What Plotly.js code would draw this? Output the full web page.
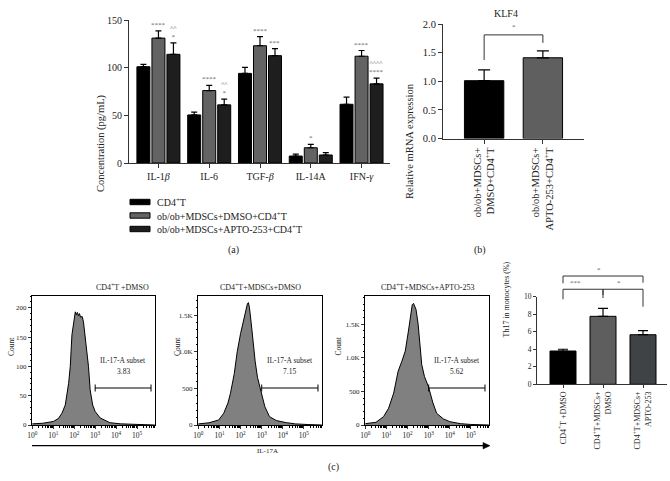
<!DOCTYPE html>
<html><head><meta charset="utf-8">
<script src="https://cdn.plot.ly/plotly-3.0.1.min.js"></script>
<style>html,body{margin:0;padding:0;background:#fff}</style>
</head><body><div id="chart" style="width:670px;height:481px"></div>
<script>
// ---------- Panel (a) data ----------
const cytokines = ['IL-1<i>β</i>','IL-6','TGF-<i>β</i>','IL-14A','IFN-<i>γ</i>'];
const groupNames = ['CD4<sup>+</sup>T','ob/ob+MDSCs+DMSO+CD4<sup>+</sup>T','ob/ob+MDSCs+APTO-253+CD4<sup>+</sup>T'];
const cd4T    = [101, 50.4, 94, 7.3, 61.6];
const cd4TErr = [2.5, 3, 6.4, 2.1, 7.4];
const dmso    = [131, 76, 123, 16, 112];
const dmsoErr = [7.5, 5.5, 9.5, 3.6, 6];
const apto    = [114, 61, 112.6, 8.4, 83];
const aptoErr = [12, 6, 7.4, 2.4, 6];
const dmsoSig = ['****','****','****','*','****'];
const aptoSigLow = ['*','*','***','','****'];
const aptoSigHigh = ['^^','^^','','','^^^^'];

// ---------- Panel (b) data ----------
const klf4Groups = ['ob/ob+MDSCs+<br>DMSO+CD4<sup>+</sup>T','ob/ob+MDSCs+<br>APTO-253+CD4<sup>+</sup>T'];
const klf4 = [1.01, 1.41];
const klf4Err = [0.19, 0.12];

// ---------- Panel (c) histogram data (log10 of IL-17A, count) ----------
const histTitles = ['CD4<sup>+</sup>T +DMSO','CD4<sup>+</sup>T+MDSCs+DMSO','CD4<sup>+</sup>T+MDSCs+APTO-253'];
const gatePct = ['3.83','7.15','5.62'];
const h1Exp = [0,0.5,1.0,1.24,1.41,1.57,1.73,1.81,1.89,2.0,2.05,2.1,2.15,2.2,2.25,2.3,2.38,2.44,2.56,2.68,2.76,2.88,3.0,3.24,3.7,4.2,5.0,5.85];
const h1Cnt = [2,3,6,11,20,34,71,100,154,178,193,188,192,186,190,184,185,176,137,100,60,34,23,12,4,2,1,0];
const h2Exp = [0,0.5,0.96,1.2,1.4,1.52,1.7,1.84,2.0,2.16,2.25,2.32,2.37,2.42,2.5,2.56,2.69,2.8,2.97,3.15,3.37,3.7,4.17,4.6,5.2,5.85];
const h2Cnt = [15,30,68,160,300,434,700,1000,1250,1450,1600,1650,1670,1600,1400,1200,870,650,434,250,114,60,32,15,6,0];
const h3Exp = [0,0.5,0.86,1.1,1.34,1.55,1.73,1.89,2.04,2.15,2.22,2.28,2.33,2.4,2.5,2.6,2.67,2.8,2.99,3.2,3.38,3.7,4.0,4.5,5.0,5.85];
const h3Cnt = [20,40,124,250,475,800,950,1100,1400,1650,1790,1810,1780,1720,1500,1150,900,720,570,330,173,90,50,20,8,0];

// ---------- Panel (c) bar data ----------
const th17Groups = ['CD4<sup>+</sup>T +DMSO','CD4<sup>+</sup>T+MDSCs+<br>DMSO','CD4<sup>+</sup>T+MDSCs+<br>APTO-253'];
const th17 = [3.8, 7.76, 5.66];
const th17Err = [0.2, 0.91, 0.46];

// ---------- layout helpers ----------
const W = 670, H = 481;
const FX = p => p / W, FY = p => 1 - p / H;
const FONT = 'Liberation Serif, Times New Roman, serif';
const INK = '#222';

const traces = [];
const annotations = [];
const shapes = [];

// Panel (a) bars
const aColors = ['#000000','#636363','#1e1e1e'];
const aData = [cd4T, dmso, apto];
const aErr = [cd4TErr, dmsoErr, aptoErr];
const aOffsets = [-0.424, -0.128, 0.167];
const aWidth = 0.256;
const idx = cytokines.map((_, i) => i);
for (let k = 0; k < 3; k++) {
  traces.push({
    type: 'bar', x: idx, y: aData[k], name: groupNames[k], xaxis: 'x', yaxis: 'y',
    width: aWidth, offset: aOffsets[k],
    marker: {color: aColors[k], line: {color: '#000', width: 1}},
    error_y: {type: 'data', symmetric: false, array: aErr[k], arrayminus: aErr[k].map(() => 0),
              color: '#000', thickness: 1.2, width: 3},
    showlegend: false
  });
}
const sigFont = {family: FONT, size: 7, color: '#666'};
idx.forEach(i => {
  const xc2 = i + aOffsets[1] + aWidth / 2, xc3 = i + aOffsets[2] + aWidth / 2;
  if (dmsoSig[i]) annotations.push({xref: 'x', yref: 'y', x: xc2, y: dmso[i] + dmsoErr[i], yanchor: 'bottom',
    text: dmsoSig[i], showarrow: false, font: sigFont});
  const parts = [aptoSigHigh[i], aptoSigLow[i]].filter(s => s);
  if (parts.length) annotations.push({xref: 'x', yref: 'y', x: xc3, y: apto[i] + aptoErr[i], yanchor: 'bottom',
    text: parts.join('<br>'), showarrow: false, font: sigFont});
});
annotations.push({xref: 'paper', yref: 'paper', x: FX(93), y: FY(92), text: 'Concentration (pg/mL)', textangle: -90,
  showarrow: false, font: {family: FONT, size: 10.5, color: INK}});
// legend (a)
const legY = [202, 215.5, 229];
for (let k = 0; k < 3; k++) {
  shapes.push({type: 'rect', xref: 'paper', yref: 'paper', x0: FX(130), x1: FX(150), y0: FY(legY[k] + 2.7), y1: FY(legY[k] - 2.7),
    fillcolor: aColors[k], line: {color: '#000', width: 1}});
  annotations.push({xref: 'paper', yref: 'paper', x: FX(155), y: FY(legY[k]), xanchor: 'left', yanchor: 'middle',
    text: groupNames[k], showarrow: false, font: {family: FONT, size: 10, color: INK}});
}
annotations.push({xref: 'paper', yref: 'paper', x: FX(233), y: FY(250), text: '(a)', showarrow: false,
  font: {family: FONT, size: 10, color: INK}});

// Panel (b)
traces.push({type: 'bar', x: [0, 1], y: klf4, xaxis: 'x2', yaxis: 'y2', width: 0.67,
  marker: {color: ['#000000', '#5f5f5f'], line: {color: '#000', width: 1}},
  error_y: {type: 'data', symmetric: false, array: klf4Err, arrayminus: [0, 0], color: '#000', thickness: 1.2, width: 6},
  showlegend: false});
shapes.push({type: 'path', xref: 'x2', yref: 'y2', path: 'M0,1.37 L0,1.81 L1,1.81 L1,1.67', line: {color: '#333', width: 1}});
annotations.push({xref: 'x2', yref: 'y2', x: 0.5, y: 1.84, yanchor: 'bottom', text: '*', showarrow: false, font: sigFont});
annotations.push({xref: 'paper', yref: 'paper', x: FX(520), y: FY(6), text: 'KLF4', showarrow: false,
  font: {family: FONT, size: 10, color: INK}});
annotations.push({xref: 'paper', yref: 'paper', x: FX(410), y: FY(81), text: 'Relative mRNA expression', textangle: -90,
  showarrow: false, font: {family: FONT, size: 10.5, color: INK}});
annotations.push({xref: 'paper', yref: 'paper', x: FX(488), y: FY(250), text: '(b)', showarrow: false,
  font: {family: FONT, size: 10, color: INK}});

// Panel (c) histograms
const hExp = [h1Exp, h2Exp, h3Exp], hCnt = [h1Cnt, h2Cnt, h3Cnt];
const hFrames = [[32, 155], [198, 322], [365, 489]];
for (let k = 0; k < 3; k++) {
  const ax = k + 4;
  traces.push({type: 'scatter', mode: 'lines', x: hExp[k].map(e => Math.pow(10, e)), y: hCnt[k],
    xaxis: 'x' + ax, yaxis: 'y' + ax, fill: 'tozeroy', fillcolor: '#808080',
    line: {color: '#000', width: 1}, showlegend: false, hoverinfo: 'skip'});
  const [l, r] = hFrames[k];
  annotations.push({xref: 'paper', yref: 'paper', x: FX((l + r) / 2), y: FY(287), text: histTitles[k], showarrow: false,
    font: {family: FONT, size: 8, color: INK}});
  annotations.push({xref: 'paper', yref: 'paper', x: FX(l - 27), y: FY(358), text: 'Count', textangle: -90, showarrow: false,
    font: {family: FONT, size: 7.5, color: INK}});
  // gate
  const gx0 = 1000, gx1 = Math.pow(10, 5.67);
  shapes.push({type: 'line', xref: 'x' + ax, yref: 'paper', x0: gx0, x1: gx1, y0: FY(388), y1: FY(388), line: {color: '#000', width: 1}});
  shapes.push({type: 'line', xref: 'x' + ax, yref: 'paper', x0: gx0, x1: gx0, y0: FY(384.5), y1: FY(391.5), line: {color: '#000', width: 1}});
  shapes.push({type: 'line', xref: 'x' + ax, yref: 'paper', x0: gx1, x1: gx1, y0: FY(384.5), y1: FY(391.5), line: {color: '#000', width: 1}});
  annotations.push({xref: 'x' + ax, yref: 'paper', x: 3 + (5.67 - 3) / 2, y: FY(367), text: 'IL-17-A subset', showarrow: false,
    font: {family: FONT, size: 7.5, color: INK}});
  annotations.push({xref: 'x' + ax, yref: 'paper', x: 3 + (5.67 - 3) / 2, y: FY(378), text: gatePct[k], showarrow: false,
    font: {family: FONT, size: 7.5, color: INK}});
}
// IL-17A axis arrow
shapes.push({type: 'line', xref: 'paper', yref: 'paper', x0: FX(32), x1: FX(484), y0: FY(445.7), y1: FY(445.7), line: {color: '#000', width: 1.2}});
shapes.push({type: 'path', xref: 'paper', yref: 'paper',
  path: `M${FX(483)},${FY(442.5)} L${FX(490)},${FY(445.7)} L${FX(483)},${FY(448.9)} Z`, fillcolor: '#000', line: {color: '#000', width: 0.5}});
annotations.push({xref: 'paper', yref: 'paper', x: FX(267), y: FY(457), text: 'IL-17A', showarrow: false,
  font: {family: FONT, size: 7, color: INK}});
annotations.push({xref: 'paper', yref: 'paper', x: FX(333), y: FY(475), text: '(c)', showarrow: false,
  font: {family: FONT, size: 10, color: INK}});

// Panel (c) bars
traces.push({type: 'bar', x: [0, 1, 2], y: th17, xaxis: 'x3', yaxis: 'y3', width: 0.65,
  marker: {color: ['#000000', '#5e5e5e', '#404346'], line: {color: '#000', width: 1}},
  error_y: {type: 'data', symmetric: false, array: th17Err, arrayminus: [0, 0, 0], color: '#000', thickness: 1.2, width: 5},
  showlegend: false});
const c3dx = [FX(537), FX(667)], c3rx = [-0.65, 2.6];
const c3dy = [FY(384.3), FY(296.7)], c3ry = [0, 10];
const c3x = v => c3dx[0] + (v - c3rx[0]) / (c3rx[1] - c3rx[0]) * (c3dx[1] - c3dx[0]);
const c3y = v => c3dy[0] + (v - c3ry[0]) / (c3ry[1] - c3ry[0]) * (c3dy[1] - c3dy[0]);
const brackets = [
  {a: 0, b: 1, top: 10.85, ya: 9.7, yb: 9.85, label: '***'},
  {a: 1, b: 2, top: 10.85, ya: 10.2, yb: 8.86, label: '*'},
  {a: 0, b: 2, top: 12.36, ya: 11.53, yb: 11.6, label: '*'}
];
brackets.forEach(b => {
  shapes.push({type: 'path', xref: 'paper', yref: 'paper',
    path: `M${c3x(b.a)},${c3y(b.ya)} L${c3x(b.a)},${c3y(b.top)} L${c3x(b.b)},${c3y(b.top)} L${c3x(b.b)},${c3y(b.yb)}`,
    line: {color: '#333', width: 1}});
  annotations.push({xref: 'paper', yref: 'paper', x: (c3x(b.a) + c3x(b.b)) / 2, y: c3y(b.top), yanchor: 'bottom',
    text: b.label, showarrow: false, font: sigFont});
});
annotations.push({xref: 'paper', yref: 'paper', x: FX(512), y: FY(340), text: 'Th17 in monocytes (%)', textangle: -90,
  showarrow: false, font: {family: FONT, size: 8, color: INK}});

// ---------- axes ----------
const baseAx = {showline: true, linecolor: '#333', linewidth: 1, ticks: 'outside', tickcolor: '#333', showgrid: false,
  zeroline: false, fixedrange: true, tickfont: {family: FONT, size: 10, color: INK}};
const histX = (dom, anchor) => Object.assign({}, baseAx, {domain: dom, anchor: anchor, type: 'log', range: [-0.02, 5.86],
  tickvals: [1, 10, 100, 1000, 10000, 100000], ticktext: [0, 1, 2, 3, 4, 5].map(e => '10<sup>' + e + '</sup>'),
  mirror: true, linecolor: '#000', ticklen: 3, tickfont: {family: FONT, size: 7.5, color: INK},
  minor: {ticks: 'outside', ticklen: 1.5, tickcolor: '#000', dtick: 'D1'}});
const histY = (dom, anchor, range, tv, tt, mdt) => Object.assign({}, baseAx, {domain: dom, anchor: anchor, range: range,
  tickvals: tv, ticktext: tt, mirror: true, linecolor: '#000', ticklen: 3, tickfont: {family: FONT, size: 7, color: INK},
  minor: {ticks: 'outside', ticklen: 1.5, tickcolor: '#000', dtick: mdt}});
const hDomY = [FY(425), FY(296)];

const layout = {
  width: W, height: H, autosize: false, margin: {l: 0, r: 0, t: 0, b: 0}, paper_bgcolor: '#fff', plot_bgcolor: 'rgba(0,0,0,0)',
  barmode: 'overlay', showlegend: false, font: {family: FONT, color: INK},
  xaxis: Object.assign({}, baseAx, {domain: [FX(129), FX(390)], anchor: 'y', range: [-0.58, 4.56], tickvals: idx, ticktext: cytokines, ticklen: 4}),
  yaxis: Object.assign({}, baseAx, {domain: [FY(163), FY(20)], anchor: 'x', range: [0, 150], tickvals: [0, 50, 100, 150], ticklen: 4}),
  xaxis2: Object.assign({}, baseAx, {domain: [FX(443), FX(584)], anchor: 'y2', range: [-0.7, 1.7], tickvals: [0, 1], ticktext: klf4Groups,
    tickangle: -90, ticklen: 4, tickfont: {family: FONT, size: 10.5, color: INK}}),
  yaxis2: Object.assign({}, baseAx, {domain: [FY(138.5), FY(24)], anchor: 'x2', range: [0, 2], tickvals: [0, 0.5, 1, 1.5, 2],
    ticktext: ['0.0', '0.5', '1.0', '1.5', '2.0'], ticklen: 4, tickfont: {family: FONT, size: 10.5, color: INK}}),
  xaxis3: Object.assign({}, baseAx, {domain: c3dx, anchor: 'y3', range: c3rx, tickvals: [0, 1, 2], ticktext: th17Groups,
    tickangle: -90, ticklen: 3, tickfont: {family: FONT, size: 8, color: INK}}),
  yaxis3: Object.assign({}, baseAx, {domain: c3dy, anchor: 'x3', range: c3ry, tickvals: [0, 2, 4, 6, 8, 10], ticklen: 3,
    tickfont: {family: FONT, size: 7.5, color: INK}}),
  xaxis4: histX([FX(32), FX(155)], 'y4'),
  yaxis4: histY(hDomY, 'x4', [0, 220], [0, 50, 100, 150, 200], ['0', '50', '100', '150', '200'], 10),
  xaxis5: histX([FX(198), FX(322)], 'y5'),
  yaxis5: histY(hDomY, 'x5', [0, 1760], [0, 500, 1000, 1500], ['0', '500', '1.0K', '1.5K'], 100),
  xaxis6: histX([FX(365), FX(489)], 'y6'),
  yaxis6: histY(hDomY, 'x6', [0, 1920], [0, 500, 1000, 1500], ['0', '500', '1.0K', '1.5K'], 100),
  shapes: shapes, annotations: annotations
};
Plotly.newPlot('chart', traces, layout, {displayModeBar: false, staticPlot: true});
</script></body></html>
